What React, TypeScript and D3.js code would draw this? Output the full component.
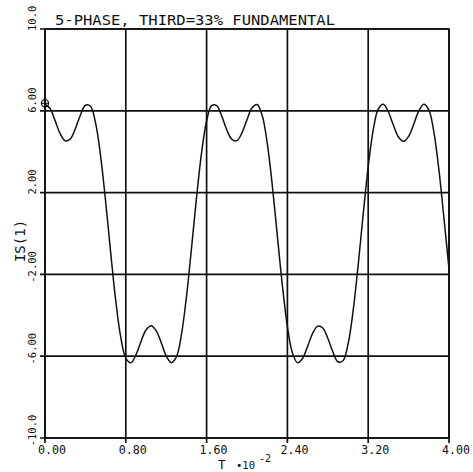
import React from "react";
import * as d3 from "d3";

// Phase current IS(1) sampled every 0.05 (time in units of 1e-2 s)
const timeValues: number[] = Array.from({ length: 81 }, (_, i) => +(i * 0.05).toFixed(2));
const currentValues: number[] = [
  6.32, 6.11, 5.52, 4.88, 4.53, 4.62, 5.12, 5.78, 6.27, 6.22,
  5.42, 3.81, 1.58, -0.92, -3.27, -5.07, -6.09, -6.32, -5.94, -5.29,
  -4.72, -4.51, -4.75, -5.33, -5.98, -6.32, -6.05, -4.97, -3.12, -0.75,
  1.74, 3.94, 5.5, 6.25, 6.25, 5.74, 5.07, 4.6, 4.54, 4.92,
  5.56, 6.15, 6.31, 5.78, 4.43, 2.37, -0.09, -2.53, -4.55, -5.84,
  -6.32, -6.11, -5.52, -4.88, -4.53, -4.62, -5.12, -5.78, -6.27, -6.22,
  -5.42, -3.81, -1.58, 0.92, 3.27, 5.07, 6.09, 6.32, 5.94, 5.29,
  4.72, 4.51, 4.75, 5.33, 5.98, 6.32, 6.05, 4.97, 3.12, 0.75,
  -1.74,
];

const xTicks: number[] = [0, 0.8, 1.6, 2.4, 3.2, 4.0];
const xTickLabels: string[] = ["0.00", "0.80", "1.60", "2.40", "3.20", "4.00"];
const yTicks: number[] = [-10, -6, -2, 2, 6, 10];
const yTickLabels: string[] = ["-10.0", "-6.00", "-2.00", "2.00", "6.00", "10.0"];

const titleText = "5-PHASE, THIRD=33% FUNDAMENTAL";
const yTitle = "IS(1)";
const xTitle = "T";

const W = 473;
const H = 472;
const FONT = "'DejaVu Sans Mono', monospace";
const INK = "#111";

export default function App() {
  const x = d3.scaleLinear().domain([0, 4]).range([45, 449]);
  const y = d3.scaleLinear().domain([-10, 10]).range([438, 29]);

  const pts: [number, number][] = timeValues.map((t, i) => [t, currentValues[i]]);
  const line = d3
    .line<[number, number]>()
    .x((d) => x(d[0]))
    .y((d) => y(d[1]))
    .curve(d3.curveCatmullRom.alpha(0.5));

  const [x0, x1] = x.range();
  const [yb, yt] = y.range();
  const minusW = 6.3;

  return (
    <svg
      width={W}
      height={H}
      viewBox={`0 0 ${W} ${H}`}
      style={{ position: "absolute", left: 0, top: 0, background: "#fff" }}
    >
      <rect x={0} y={0} width={W} height={H} fill="#fff" />

      {/* grid lines with outward ticks */}
      {xTicks.map((t, i) => (
        <line key={`gx${i}`} x1={x(t)} x2={x(t)} y1={yt} y2={yb + 5} stroke={INK} strokeWidth={1.7} />
      ))}
      {yTicks.map((v, i) => (
        <line key={`gy${i}`} x1={x0 - 5} x2={x1} y1={y(v)} y2={y(v)} stroke={INK} strokeWidth={1.7} />
      ))}

      {/* frame */}
      <rect x={x0} y={yt} width={x1 - x0} height={yb - yt} fill="none" stroke={INK} strokeWidth={1.7} />

      {/* waveform */}
      <path d={line(pts) ?? ""} fill="none" stroke={INK} strokeWidth={1.5} />

      {/* start marker */}
      <g transform={`translate(${x(timeValues[0])},${y(currentValues[0]) - 1})`}>
        <circle r={3.6} fill="none" stroke={INK} strokeWidth={1.2} />
        <line x1={-3.6} x2={3.6} y1={0} y2={0} stroke={INK} strokeWidth={1.1} />
      </g>

      {/* title */}
      <text x={55} y={25} fontFamily={FONT} fontSize={14} fill={INK} textLength={280} lengthAdjust="spacingAndGlyphs">
        {titleText}
      </text>

      {/* x tick labels */}
      {xTicks.map((t, i) => (
        <text
          key={`xl${i}`}
          x={x(t) - 7}
          y={454}
          fontFamily={FONT}
          fontSize={13}
          fill={INK}
          textLength={28}
          lengthAdjust="spacingAndGlyphs"
        >
          {xTickLabels[i]}
        </text>
      ))}

      {/* y tick labels, rotated */}
      {yTicks.map((v, i) => {
        const lbl = yTickLabels[i];
        const neg = lbl.startsWith("-");
        const sy = y(v) + 2 + (neg ? minusW : 0);
        return (
          <text
            key={`yl${i}`}
            transform={`translate(36,${sy}) rotate(-90)`}
            fontFamily={FONT}
            fontSize={10.5}
            fill={INK}
          >
            {lbl}
          </text>
        );
      })}

      {/* axis titles */}
      <text
        transform={`translate(25,241) rotate(-90)`}
        textAnchor="middle"
        fontFamily={FONT}
        fontSize={14}
        fill={INK}
      >
        {yTitle}
      </text>
      <text x={218} y={469} fontFamily={FONT} fontSize={12.5} fill={INK}>
        {xTitle}
      </text>
      <text x={236} y={468.5} fontFamily={FONT} fontSize={10.5} fill={INK}>
        {"\u202210"}
      </text>
      <text x={259} y={462} fontFamily={FONT} fontSize={10} fill={INK}>
        {"-2"}
      </text>
    </svg>
  );
}
